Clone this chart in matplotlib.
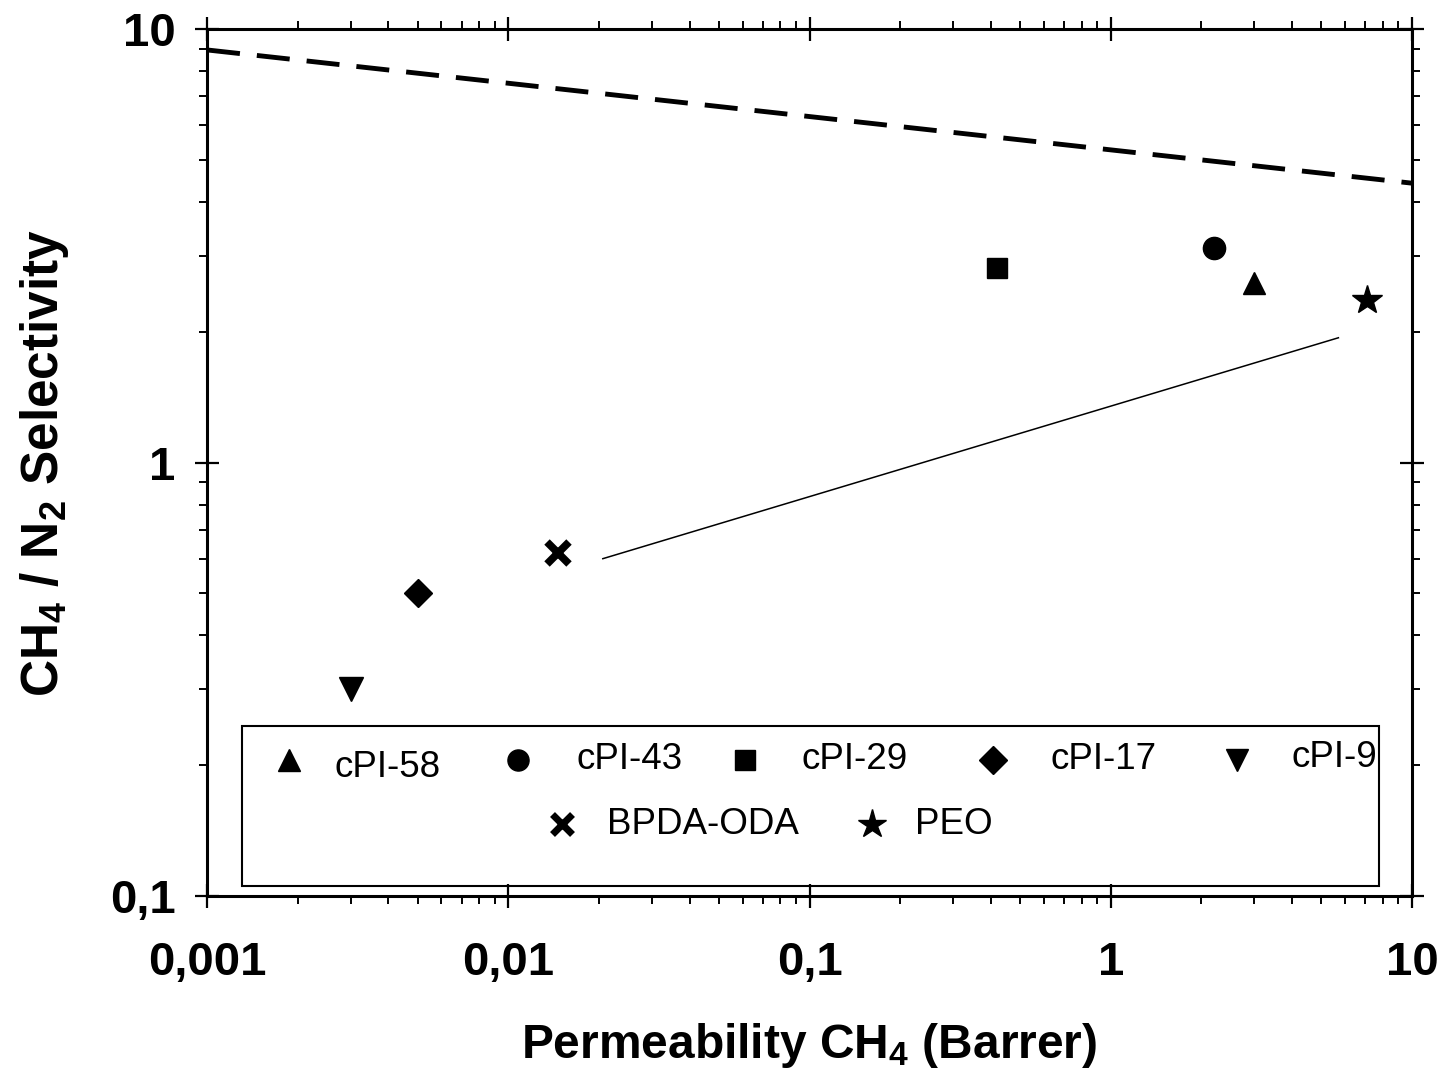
import matplotlib
matplotlib.use("Agg")
import matplotlib.pyplot as plt
from matplotlib.patches import Rectangle
from matplotlib.ticker import LogLocator, NullFormatter

plt.rcParams["font.family"] = ["Liberation Sans", "DejaVu Sans"]
plt.rcParams["mathtext.fontset"] = "custom"
plt.rcParams["mathtext.rm"] = "Liberation Sans"
plt.rcParams["mathtext.bf"] = "Liberation Sans:bold"

# data
names = ["cPI-58", "cPI-43", "cPI-29", "cPI-17", "cPI-9", "BPDA-ODA", "PEO"]
perm = [3.0, 2.2, 0.42, 0.005, 0.003, 0.0146, 7.1]
select = [2.6, 3.12, 2.81, 0.50, 0.30, 0.62, 2.37]

# upper bound (dashed) and trend (thin solid)
bound_x = [0.001, 10]
bound_y = [8.95, 4.41]
trend_x = [0.0206, 5.7]
trend_y = [0.60, 1.94]

markers = ["^", "o", "s", "D", "v", "x", "*"]
msizes = [16, 16, 15, 14.5, 17, 16, 22]

fig = plt.figure(figsize=(14.44, 10.72), dpi=100)
ax = fig.add_axes([0.1434, 0.1642, 0.8344, 0.8087])
ax.set_xscale("log")
ax.set_yscale("log")
ax.set_xlim(0.001, 10)
ax.set_ylim(0.1, 10)

ax.plot(bound_x, bound_y, color="black", lw=3.5, dashes=(6.8, 3.5))
ax.plot(trend_x, trend_y, color="black", lw=1.1)

for x, y, m, s in zip(perm, select, markers, msizes):
    if m == "x":
        ax.plot(x, y, marker=m, ms=s, mew=5.5, color="black", ls="none")
    else:
        ax.plot(x, y, marker=m, ms=s, color="black", ls="none")

# legend box drawn by hand (two rows, second row centred)
ax.add_patch(Rectangle((0.029, 0.0115), 0.9436, 0.185, transform=ax.transAxes,
                       fill=False, lw=1.5, ec="black", zorder=3))
leg_mx = [0.068, 0.258, 0.4465, 0.652, 0.855, 0.2946, 0.552]
leg_my = [0.157, 0.157, 0.157, 0.157, 0.157, 0.083, 0.083]
leg_tx = [0.106, 0.307, 0.493, 0.700, 0.900, 0.332, 0.5876]
leg_ty = [0.148, 0.158, 0.158, 0.158, 0.160, 0.083, 0.083]
for i, n in enumerate(names):
    s = msizes[i] * 0.95
    if markers[i] == "x":
        ax.plot(leg_mx[i], leg_my[i], marker="x", ms=s * 0.95, mew=5, color="black",
                transform=ax.transAxes, clip_on=False)
    else:
        ax.plot(leg_mx[i], leg_my[i], marker=markers[i], ms=s, color="black",
                transform=ax.transAxes, clip_on=False)
    ax.text(leg_tx[i], leg_ty[i], n, transform=ax.transAxes, fontsize=26.5,
            va="center", ha="left")

ax.set_xticks([0.001, 0.01, 0.1, 1, 10])
ax.set_xticklabels(["0,001", "0,01", "0,1", "1", "10"])
ax.set_yticks([0.1, 1, 10])
ax.set_yticklabels(["0,1", "1", "10"])
ax.xaxis.set_minor_locator(LogLocator(base=10, subs=range(2, 10), numticks=20))
ax.yaxis.set_minor_locator(LogLocator(base=10, subs=range(2, 10), numticks=20))
ax.xaxis.set_minor_formatter(NullFormatter())
ax.yaxis.set_minor_formatter(NullFormatter())

for sp in ax.spines.values():
    sp.set_linewidth(2.2)

ax.tick_params(which="major", direction="inout", length=17, width=1.6,
               top=True, right=True, labelsize=34)
ax.tick_params(which="minor", direction="out", length=5.5, width=1.4,
               top=True, right=True)
ax.tick_params(axis="x", which="major", pad=24)
ax.tick_params(axis="y", which="major", pad=14)
for lab in ax.get_xticklabels() + ax.get_yticklabels():
    lab.set_fontweight("bold")

ax.set_xlabel(r"Permeability CH$_{\mathbf{4}}$ (Barrer)", fontsize=34.5,
              fontweight="bold", labelpad=26)
ax.set_ylabel(r"CH$_{\mathbf{4}}$ / N$_{\mathbf{2}}$ Selectivity", fontsize=37,
              fontweight="bold", labelpad=28)

fig.savefig("out.png", dpi=100)
